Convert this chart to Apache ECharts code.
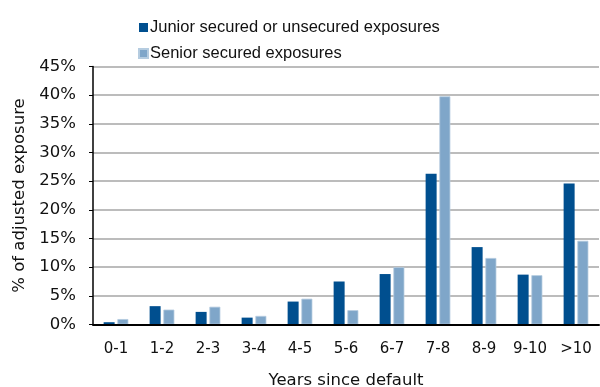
<!DOCTYPE html>
<html>
<head>
<meta charset="utf-8">
<script src="https://cdn.jsdelivr.net/npm/echarts@6/dist/echarts.min.js"></script>
<style>
  html, body { margin: 0; padding: 0; background: #fff; }
  #chart { width: 600px; height: 387px; }
</style>
</head>
<body>
<div id="chart"></div>
<script>
// Years since default buckets
const categories = ['0-1', '1-2', '2-3', '3-4', '4-5', '5-6', '6-7', '7-8', '8-9', '9-10', '>10'];
// Share of adjusted exposure (%)
const juniorValues = [0.4, 3.2, 2.2, 1.2, 4.0, 7.5, 8.8, 26.3, 13.5, 8.7, 24.6];
const seniorValues = [0.95, 2.6, 3.1, 1.5, 4.5, 2.5, 10.0, 39.8, 11.6, 8.6, 14.6];
const yTicks = [0, 5, 10, 15, 20, 25, 30, 35, 40, 45];

const legendFont = 'Liberation Sans, Arial, sans-serif';
const axisFont = 'DejaVu Sans, sans-serif';
const chart = echarts.init(document.getElementById('chart'));
chart.setOption({
  animation: false,
  textStyle: { fontFamily: axisFont },
  legend: {
    orient: 'vertical',
    left: 133,
    top: 14,
    itemWidth: 9,
    itemHeight: 9,
    itemGap: 9,
    icon: 'rect',
    textStyle: { fontSize: 16.5, lineHeight: 16, color: '#111', fontFamily: legendFont, padding: [0, 0, 0, -3] },
    data: ['Junior secured or unsecured exposures', 'Senior secured exposures']
  },
  grid: { left: 93, right: 1, top: 66.5, bottom: 62.5, containLabel: false, outerBoundsMode: 'none' },
  xAxis: {
    type: 'category',
    data: categories,
    name: 'Years since default',
    nameLocation: 'middle',
    nameGap: 48,
    nameTextStyle: { fontSize: 16.5, color: '#111', fontFamily: axisFont },
    axisLine: { lineStyle: { color: '#000', width: 2 } },
    axisTick: { show: false },
    axisLabel: { fontSize: 15, color: '#111', margin: 17, fontFamily: axisFont },
    z: 5
  },
  yAxis: {
    type: 'value',
    min: yTicks[0],
    max: yTicks[yTicks.length - 1],
    interval: 5,
    name: '% of adjusted exposure',
    nameLocation: 'middle',
    nameGap: 65,
    nameTextStyle: { fontSize: 16.5, color: '#111', fontFamily: axisFont },
    axisLine: { show: true, lineStyle: { color: '#000', width: 1.5 } },
    axisTick: { show: true, length: 4, lineStyle: { color: '#000' } },
    axisLabel: { fontSize: 16.5, color: '#111', margin: 17, formatter: v => v + '%', fontFamily: axisFont },
    splitLine: { lineStyle: { color: '#a6a6a6', width: 1.5 } }
  },
  series: [
    {
      name: 'Junior secured or unsecured exposures',
      type: 'bar',
      data: juniorValues,
      barWidth: 11,
      barGap: '25%',
      itemStyle: { color: '#004f8f' }
    },
    {
      name: 'Senior secured exposures',
      type: 'bar',
      data: seniorValues,
      barWidth: 11,
      itemStyle: { color: '#7fa6c9', borderColor: '#b5cce0', borderWidth: 0.8 }
    }
  ]
});
</script>
</body>
</html>
